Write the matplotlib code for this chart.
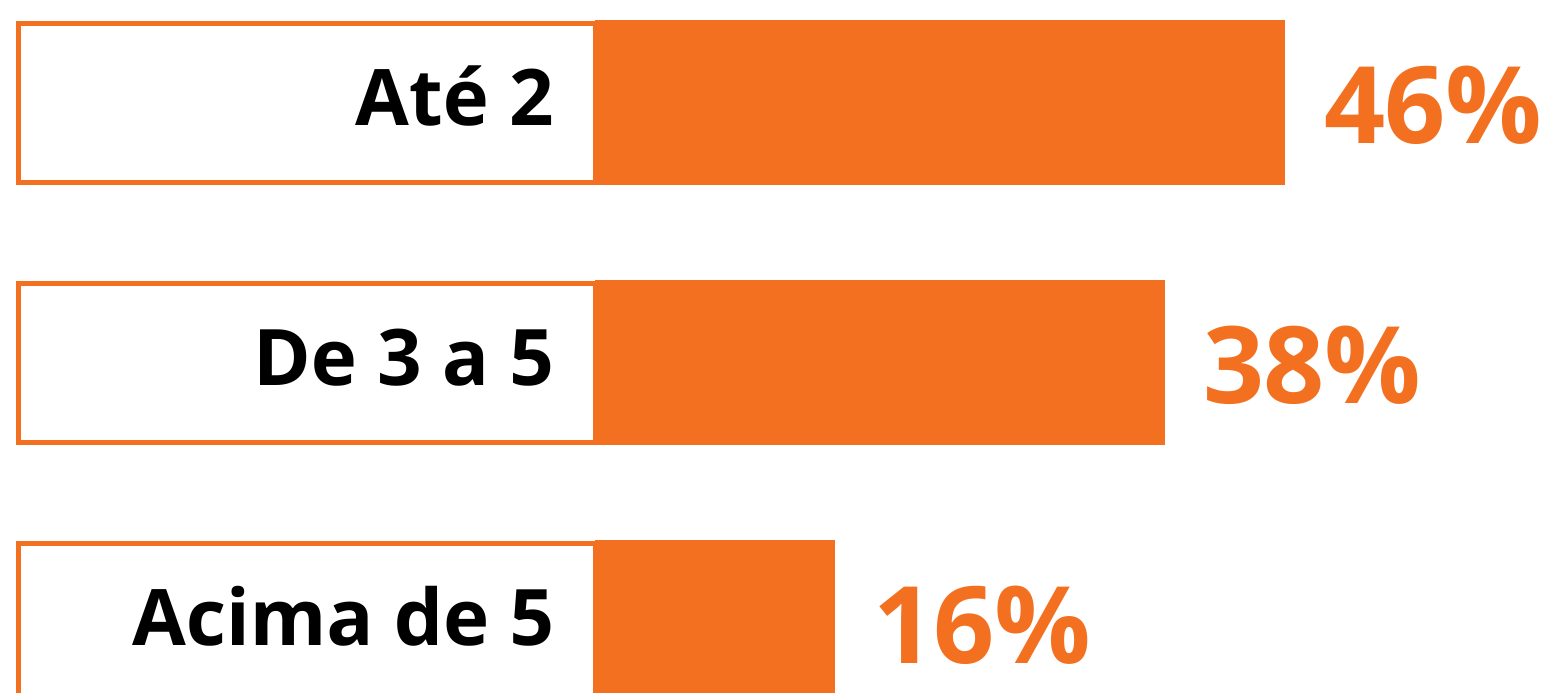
import matplotlib
matplotlib.use("Agg")
import matplotlib.pyplot as plt

plt.rcParams["text.hinting"] = "no_hinting"
plt.rcParams["text.hinting_factor"] = 1

categories = ["Até 2", "De 3 a 5", "Acima de 5"]
values = [46, 38, 16]
value_labels = ["46%", "38%", "16%"]

orange = "#F37021"
px = 15.0        # pixels per percentage point
row_px = 260.0   # pixels between rows

fig = plt.figure(figsize=(15.57, 6.93), dpi=100)
ax = fig.add_axes([0, 0, 1, 1])
ax.set_xlim(-595 / px, (1557 - 595) / px)
ax.set_ylim((693 - 102.5) / row_px, -102.5 / row_px)
ax.axis("off")

y = list(range(len(categories)))

# label boxes
box_left = -(595 - 17.5) / px
ax.barh(y, [-box_left] * len(y), left=box_left, height=159.5 / row_px,
        color="white", edgecolor=orange, linewidth=3.6, zorder=1)
# value bars
ax.barh(y, values, left=0, height=165 / row_px, color=orange,
        edgecolor="none", zorder=2)

for yi, cat, v, lab in zip(y, categories, values, value_labels):
    ax.text(-41 / px, yi + 22.5 / row_px, cat, ha="right", va="baseline",
            fontsize=56.2, fontweight="bold", family="Open Sans",
            color="black", zorder=3)
    ax.text(v + 38 / px, yi + 40.5 / row_px, lab, ha="left", va="baseline",
            fontsize=76.7, fontweight="bold", family="Open Sans",
            color=orange, zorder=3)

fig.savefig("out.png", dpi=100)
